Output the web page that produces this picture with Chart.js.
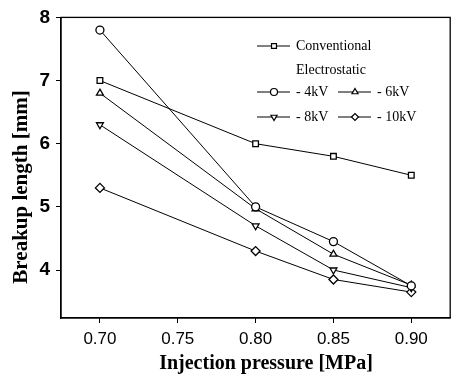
<!DOCTYPE html>
<html>
<head>
<meta charset="utf-8">
<script src="https://cdn.jsdelivr.net/npm/chart.js@4.4.0/dist/chart.umd.min.js"></script>
<style>
  html, body { margin: 0; padding: 0; background: #fff; }
  #wrap { width: 456px; height: 376px; }
</style>
</head>
<body>
<div id="wrap"><canvas id="chart1" width="456" height="376"></canvas></div>
<script>
var pressures = [0.70, 0.80, 0.85, 0.90];
var conventional = [7.0, 6.0, 5.8, 5.5];
var kv4 = [7.8, 5.0, 4.45, 3.75];
var kv6 = [6.8, 4.97, 4.25, 3.76];
var kv8 = [6.3, 4.7, 4.0, 3.72];
var kv10 = [5.3, 4.3, 3.85, 3.65];
var xTicks = [0.70, 0.75, 0.80, 0.85, 0.90];
var yTicks = [4, 5, 6, 7, 8];
var xTitle = 'Injection pressure [MPa]';
var yTitle = 'Breakup length [mm]';

function pts(vals) {
    return vals.map(function(v, i){ return {x: pressures[i], y: v}; });
}

function mkSet(label, vals, style, rot) {
    return {
        label: label,
        data: pts(vals),
        borderColor: '#000',
        borderWidth: 1,
        backgroundColor: '#fff',
        pointStyle: style,
        rotation: rot || 0,
        pointRadius: style == 'rectRot' ? 4.5 : 4,
        pointBorderWidth: 1.3,
        pointBorderColor: '#000',
        pointBackgroundColor: '#fff',
        fill: false,
        tension: 0
    };
}

// frame, axis titles and legend drawn by hand
var framePlugin = {
    id: 'frame',
    afterDraw: function(chart) {
        var c = chart.ctx, a = chart.chartArea;
        c.save();
        c.strokeStyle = '#000';
        c.lineWidth = 1.3;
        c.strokeRect(a.left, a.top, a.right - a.left, a.bottom - a.top);

        // axis titles
        c.fillStyle = '#000';
        c.font = 'bold 20px "Liberation Serif"';
        c.textAlign = 'center';
        c.textBaseline = 'middle';
        c.fillText(xTitle, 266, 364);
        c.save();
        c.translate(22, 187);
        c.rotate(-Math.PI / 2);
        c.font = 'bold 21px "Liberation Serif"';
        c.fillText(yTitle, 0, 0);
        c.restore();

        // legend
        var ds = chart.data.datasets;
        c.font = '14px "Liberation Serif"';
        c.textAlign = 'left';
        function entry(d, x, y, txt) {
            c.lineWidth = 1;
            c.beginPath(); c.moveTo(x, y); c.lineTo(x + 33, y); c.stroke();
            c.lineWidth = 1.2;
            c.fillStyle = '#fff';
            Chart.helpers.drawPoint(c, {pointStyle: d.pointStyle, rotation: d.rotation, radius: 3.5, borderWidth: 1.2}, x + 17, y);
            c.fillStyle = '#000';
            c.fillText(txt, x + 39, y);
        }
        entry(ds[0], 257, 46, 'Conventional');
        c.fillText('Electrostatic', 296, 70);
        var pos = [[257, 92], [338, 92], [257, 117], [338, 117]];
        for (var i = 0; i < 4; i++) {
            entry(ds[i + 1], pos[i][0], pos[i][1], ds[i + 1].label);
        }
        c.restore();
    }
};

var ctx = document.getElementById('chart1').getContext('2d');
var chartLine = new Chart(ctx, {
    type: 'line',
    data: {
        datasets: [
            mkSet('Conventional', conventional, 'rect'),
            mkSet('- 4kV', kv4, 'circle'),
            mkSet('- 6kV', kv6, 'triangle'),
            mkSet('- 8kV', kv8, 'triangle', 180),
            mkSet('- 10kV', kv10, 'rectRot')
        ]
    },
    options: {
        responsive: false,
        animation: false,
        layout: { padding: { top: 17, right: 4, left: 0, bottom: 0 } },
        plugins: { legend: { display: false }, tooltip: { enabled: false } },
        scales: {
            x: {
                type: 'linear',
                min: 0.675,
                max: 0.925,
                afterBuildTicks: function(ax){ ax.ticks = xTicks.map(function(v){ return {value: v}; }); },
                afterFit: function(ax){ ax.height = 58; },
                grid: { drawOnChartArea: false, drawTicks: true, tickLength: 5, color: '#000' },
                border: { color: '#000', width: 1.3 },
                ticks: {
                    color: '#000',
                    padding: 6,
                    maxRotation: 0,
                    font: { family: '"Liberation Sans"', size: 17 },
                    callback: function(v){ return v.toFixed(2); }
                }
            },
            y: {
                min: 3.24,
                max: 8,
                afterBuildTicks: function(ax){ ax.ticks = yTicks.map(function(v){ return {value: v}; }); },
                afterFit: function(ax){ ax.width = 61; },
                grid: { drawOnChartArea: false, drawTicks: true, tickLength: 5, color: '#000' },
                border: { color: '#000', width: 1.3 },
                ticks: {
                    color: '#000',
                    padding: 6,
                    font: { family: '"Liberation Sans"', size: 19, weight: 'bold' }
                }
            }
        }
    },
    plugins: [framePlugin]
});
</script>
</body>
</html>
